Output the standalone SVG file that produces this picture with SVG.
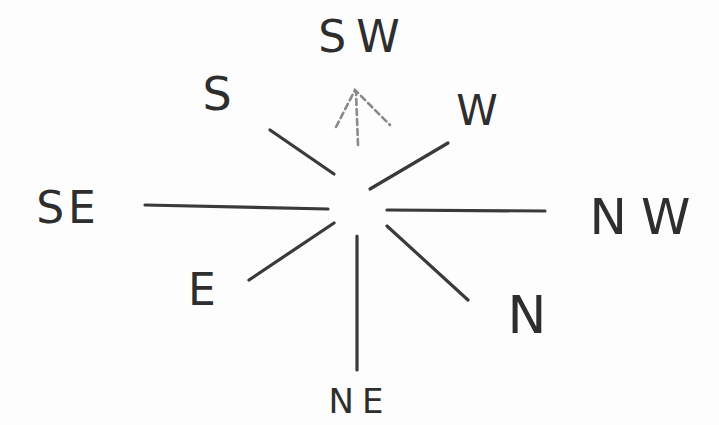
<svg xmlns="http://www.w3.org/2000/svg" width="719" height="425" viewBox="0 0 719 425">
<style>
.lbl{font-family:"DejaVu Sans","Liberation Sans",sans-serif;fill:#2e2e2e;text-anchor:middle;font-weight:normal}
.ray{stroke:#3a3a3a;stroke-width:3.2;stroke-linecap:round;fill:none}
.faint{stroke:#8a8a8a;stroke-width:2.6;stroke-linecap:round;fill:none;stroke-dasharray:6 4}
</style>
<rect width="719" height="425" fill="#fdfdfd"/>
<g id="connectors">
<line class="ray" x1="145" y1="205" x2="328" y2="209"/>
<line class="ray" x1="387" y1="210" x2="545" y2="211"/>
<line class="ray" x1="270" y1="130" x2="334" y2="174"/>
<line class="ray" x1="370" y1="189" x2="448" y2="143"/>
<line class="ray" x1="249" y1="280" x2="334" y2="223"/>
<line class="ray" x1="387" y1="226" x2="468" y2="300"/>
<line class="ray" x1="357" y1="236" x2="357" y2="370"/>
<path class="faint" d="M358 145 L356 92"/>
<path class="faint" d="M336 127 L355 90 L390 125"/>
</g>
<g id="node-sw"><text class="lbl" x="364" y="52" font-size="44" letter-spacing="10">SW</text></g>
<g id="node-s"><text class="lbl" x="217" y="110" font-size="46">S</text></g>
<g id="node-w"><text class="lbl" x="477" y="125" font-size="42">W</text></g>
<g id="node-se"><text class="lbl" x="68" y="223" font-size="44" letter-spacing="4">SE</text></g>
<g id="node-nw"><text class="lbl" x="647" y="234" font-size="50" letter-spacing="14">NW</text></g>
<g id="node-e"><text class="lbl" x="202" y="305" font-size="44">E</text></g>
<g id="node-n"><text class="lbl" x="527" y="333" font-size="52">N</text></g>
<g id="node-ne"><text class="lbl" x="360" y="413" font-size="34" letter-spacing="8">NE</text></g>
</svg>
